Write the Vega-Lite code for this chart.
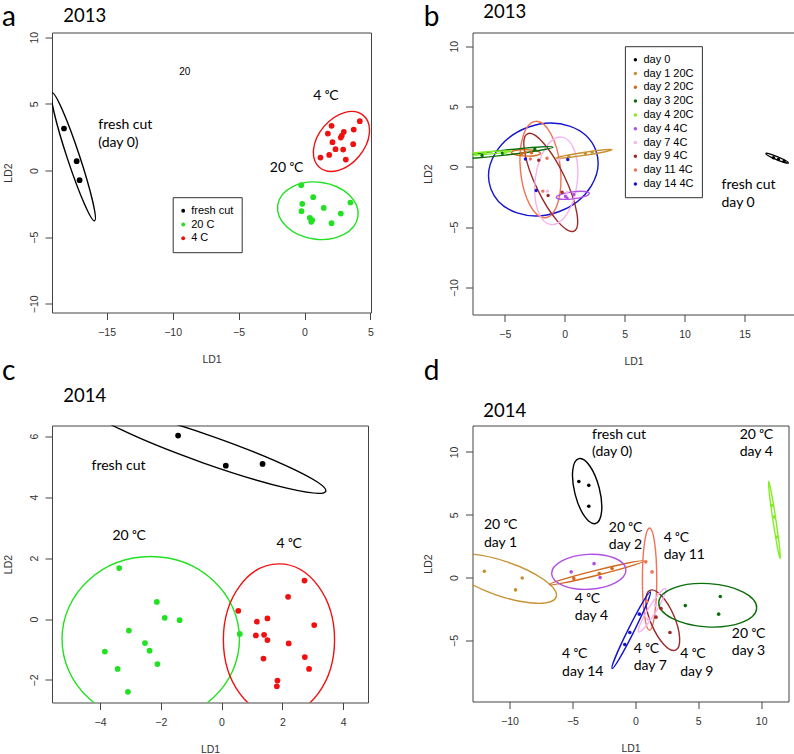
{
"$schema": "https://vega.github.io/schema/vega-lite/v6.json",
"autosize": {"type": "pad"},
"padding": {"left": 1, "top": 1.5, "right": 0, "bottom": 0},
"columns": 2, "bounds": "flush", "align": "all",
"spacing": {"row": 111, "column": 98.5},
"resolve": {"scale": {"color": "independent", "stroke": "independent"}, "legend": {"color": "independent", "stroke": "independent"}},
"config": {
  "view": {"stroke": "#444", "strokeWidth": 1},
  "axis": {"grid": false, "domain": false, "labelFlush": false, "labelFont": "Liberation Sans", "labelFontSize": 10.5, "labelColor": "#333", "tickColor": "#444", "tickSize": 7, "titleFont": "Liberation Sans", "titleFontSize": 10.5, "titleFontWeight": "normal", "titleColor": "#333", "titlePadding": 16},
  "axisX": {"labelPadding": 8},
  "axisY": {"labelAngle": 270, "labelPadding": 6},
  "legend": {"labelFont": "Liberation Sans", "labelFontSize": 11, "labelColor": "black", "strokeColor": "#333", "fillColor": "white", "padding": 8, "rowPadding": 1.8, "labelOffset": 2.5, "symbolOffset": -3, "symbolType": "circle"},
  "title": {"font": "Lato", "fontSize": 28, "fontWeight": "normal", "color": "black", "anchor": "start", "frame": "group", "offset": 0, "baseline": "alphabetic"}
},
"datasets": {
  "a_pts": [
    {"g": "fresh cut", "x": -18.23, "y": 3.15}, {"g": "fresh cut", "x": -17.27, "y": 0.70}, {"g": "fresh cut", "x": -17.05, "y": -0.73},
    {"g": "4 C", "x": 4.19, "y": 3.70}, {"g": "4 C", "x": 2.05, "y": 3.35}, {"g": "4 C", "x": 3.73, "y": 3.07}, {"g": "4 C", "x": 2.98, "y": 2.90}, {"g": "4 C", "x": 1.77, "y": 2.77}, {"g": "4 C", "x": 2.83, "y": 2.62}, {"g": "4 C", "x": 2.75, "y": 2.47}, {"g": "4 C", "x": 2.12, "y": 2.12}, {"g": "4 C", "x": 3.69, "y": 1.97}, {"g": "4 C", "x": 2.35, "y": 1.60}, {"g": "4 C", "x": 2.93, "y": 1.57}, {"g": "4 C", "x": 1.87, "y": 1.17}, {"g": "4 C", "x": 1.21, "y": 0.97}, {"g": "4 C", "x": 3.13, "y": 0.82},
    {"g": "20 C", "x": -0.25, "y": -1.10}, {"g": "20 C", "x": 0.66, "y": -2.0}, {"g": "20 C", "x": 3.48, "y": -2.40}, {"g": "20 C", "x": -0.17, "y": -2.5}, {"g": "20 C", "x": 1.46, "y": -2.81}, {"g": "20 C", "x": -0.23, "y": -3.05}, {"g": "20 C", "x": 2.75, "y": -3.23}, {"g": "20 C", "x": 0.40, "y": -3.55}, {"g": "20 C", "x": 0.58, "y": -3.73}, {"g": "20 C", "x": 0.51, "y": -3.85}, {"g": "20 C", "x": 2.05, "y": -3.95}
  ],
  "a_ell": [
    {"g": "fresh cut", "k": 0, "x": -19.13, "y": 5.82}, {"g": "fresh cut", "k": 1, "x": -17.075, "y": 1.166}, {"g": "fresh cut", "k": 2, "x": -15.91, "y": -3.78}, {"g": "fresh cut", "k": 3, "x": -17.965, "y": 0.874},
    {"g": "4 C", "k": 0, "x": 4.455, "y": 4.134}, {"g": "4 C", "k": 1, "x": 4.135, "y": 1.071}, {"g": "4 C", "k": 2, "x": 1.145, "y": 0.226}, {"g": "4 C", "k": 3, "x": 1.465, "y": 3.289},
    {"g": "20 C", "k": 0, "x": 4.05, "y": -3.44}, {"g": "20 C", "k": 1, "x": 0.71, "y": -5.14}, {"g": "20 C", "k": 2, "x": -2.03, "y": -2.60}, {"g": "20 C", "k": 3, "x": 1.31, "y": -0.90}
  ],
  "a_txt": [
    {"t": "fresh cut", "x": -15.63, "y": 3.45}, {"t": "(day 0)", "x": -15.63, "y": 2.1},
    {"t": "4 ᵒC", "x": 0.66, "y": 5.6}, {"t": "20 ᵒC", "x": -2.63, "y": 0.22}
  ],
  "a_small": [{"t": "20", "x": -9.07, "y": 7.4}],
  "b_pts": [
    {"g": "day 0", "x": 17.42, "y": 0.75}, {"g": "day 0", "x": 17.83, "y": 0.61}, {"g": "day 0", "x": 18.3, "y": 0.47},
    {"g": "day 1 20C", "x": 0.33, "y": 0.89}, {"g": "day 1 20C", "x": 1.72, "y": 1.11}, {"g": "day 1 20C", "x": 2.28, "y": 1.22},
    {"g": "day 2 20C", "x": -3.6, "y": 1.1}, {"g": "day 2 20C", "x": -2.78, "y": 1.16}, {"g": "day 2 20C", "x": -3.3, "y": 1.2},
    {"g": "day 3 20C", "x": -6.9, "y": 0.95}, {"g": "day 3 20C", "x": -5.2, "y": 1.12}, {"g": "day 3 20C", "x": -2.5, "y": 1.45},
    {"g": "day 4 20C", "x": -7.4, "y": 1.05}, {"g": "day 4 20C", "x": -6.64, "y": 1.13}, {"g": "day 4 20C", "x": -4.98, "y": 1.16},
    {"g": "day 4 4C", "x": 0.05, "y": -2.43}, {"g": "day 4 4C", "x": 0.75, "y": -2.29}, {"g": "day 4 4C", "x": 0.19, "y": -2.57},
    {"g": "day 7 4C", "x": -1.45, "y": -2.01}, {"g": "day 7 4C", "x": -0.47, "y": 0.6}, {"g": "day 7 4C", "x": 0.19, "y": -2.15},
    {"g": "day 9 4C", "x": -2.17, "y": 0.55}, {"g": "day 9 4C", "x": -1.39, "y": -2.37}, {"g": "day 9 4C", "x": -0.22, "y": -2.10},
    {"g": "day 11 4C", "x": -2.87, "y": 0.66}, {"g": "day 11 4C", "x": -1.48, "y": 0.72}, {"g": "day 11 4C", "x": -1.83, "y": -2.01},
    {"g": "day 14 4C", "x": -3.28, "y": 0.66}, {"g": "day 14 4C", "x": 0.25, "y": 0.61}, {"g": "day 14 4C", "x": -2.39, "y": -1.96}
  ],
  "b_ell": [
    {"g": "day 14 4C", "k": 0, "x": 2.59, "y": 1.367}, {"g": "day 14 4C", "k": 1, "x": -0.507, "y": -3.72}, {"g": "day 14 4C", "k": 2, "x": -6.17, "y": -1.807}, {"g": "day 14 4C", "k": 3, "x": -3.073, "y": 3.28},
    {"g": "day 11 4C", "k": 0, "x": -2.45, "y": 3.77}, {"g": "day 11 4C", "k": 1, "x": -0.37, "y": -0.047}, {"g": "day 11 4C", "k": 2, "x": -1.61, "y": -4.21}, {"g": "day 11 4C", "k": 3, "x": -3.69, "y": -0.393},
    {"g": "day 9 4C", "k": 0, "x": 0.77, "y": -5.32}, {"g": "day 9 4C", "k": 1, "x": -0.045, "y": -0.754}, {"g": "day 9 4C", "k": 2, "x": -3.11, "y": 2.74}, {"g": "day 9 4C", "k": 3, "x": -2.295, "y": -1.826},
    {"g": "day 7 4C", "k": 0, "x": -0.252, "y": 2.46}, {"g": "day 7 4C", "k": 1, "x": 1.03, "y": -1.378}, {"g": "day 7 4C", "k": 2, "x": -1.168, "y": -4.78}, {"g": "day 7 4C", "k": 3, "x": -2.45, "y": -0.942},
    {"g": "day 4 4C", "k": 0, "x": 2.045, "y": -2.194}, {"g": "day 4 4C", "k": 1, "x": 0.70, "y": -2.65}, {"g": "day 4 4C", "k": 2, "x": -0.705, "y": -2.526}, {"g": "day 4 4C", "k": 3, "x": 0.64, "y": -2.07},
    {"g": "day 2 20C", "k": 0, "x": -2.03, "y": 1.12}, {"g": "day 2 20C", "k": 1, "x": -3.24, "y": 1.43}, {"g": "day 2 20C", "k": 2, "x": -4.45, "y": 1.20}, {"g": "day 2 20C", "k": 3, "x": -3.24, "y": 0.89},
    {"g": "day 1 20C", "k": 0, "x": 3.95, "y": 1.422}, {"g": "day 1 20C", "k": 1, "x": 1.609, "y": 0.947}, {"g": "day 1 20C", "k": 2, "x": -0.77, "y": 0.718}, {"g": "day 1 20C", "k": 3, "x": 1.571, "y": 1.193},
    {"g": "day 3 20C", "k": 0, "x": -0.98, "y": 1.636}, {"g": "day 3 20C", "k": 1, "x": -4.956, "y": 0.974}, {"g": "day 3 20C", "k": 2, "x": -8.98, "y": 0.724}, {"g": "day 3 20C", "k": 3, "x": -5.004, "y": 1.386},
    {"g": "day 4 20C", "k": 0, "x": -4.47, "y": 1.296}, {"g": "day 4 20C", "k": 1, "x": -6.71, "y": 1.03}, {"g": "day 4 20C", "k": 2, "x": -8.97, "y": 0.964}, {"g": "day 4 20C", "k": 3, "x": -6.73, "y": 1.23},
    {"g": "day 0", "k": 0, "x": 18.66, "y": 0.33}, {"g": "day 0", "k": 1, "x": 17.672, "y": 0.605}, {"g": "day 0", "k": 2, "x": 16.78, "y": 1.11}, {"g": "day 0", "k": 3, "x": 17.768, "y": 0.835}
  ],
  "b_txt": [
    {"t": "fresh cut", "x": 13.08, "y": -1.52}, {"t": "day 0", "x": 13.08, "y": -2.98}
  ],
  "c_pts": [
    {"g": "fresh cut", "x": -1.43, "y": 6.02}, {"g": "fresh cut", "x": 0.14, "y": 5.03}, {"g": "fresh cut", "x": 1.35, "y": 5.09},
    {"g": "20 C", "x": -3.37, "y": 1.67}, {"g": "20 C", "x": -2.13, "y": 0.56}, {"g": "20 C", "x": -1.87, "y": 0.04}, {"g": "20 C", "x": -1.38, "y": -0.04}, {"g": "20 C", "x": -3.05, "y": -0.38}, {"g": "20 C", "x": -2.52, "y": -0.79}, {"g": "20 C", "x": -2.37, "y": -1.04}, {"g": "20 C", "x": -3.84, "y": -1.07}, {"g": "20 C", "x": -2.11, "y": -1.48}, {"g": "20 C", "x": -3.42, "y": -1.64}, {"g": "20 C", "x": -3.08, "y": -2.39}, {"g": "20 C", "x": 0.60, "y": -0.49},
    {"g": "4 C", "x": 0.55, "y": 0.27}, {"g": "4 C", "x": 2.73, "y": 1.26}, {"g": "4 C", "x": 2.19, "y": 0.73}, {"g": "4 C", "x": 1.16, "y": -0.09}, {"g": "4 C", "x": 1.51, "y": 0.02}, {"g": "4 C", "x": 3.05, "y": -0.20}, {"g": "4 C", "x": 1.13, "y": -0.54}, {"g": "4 C", "x": 1.40, "y": -0.52}, {"g": "4 C", "x": 1.51, "y": -0.69}, {"g": "4 C", "x": 2.21, "y": -0.80}, {"g": "4 C", "x": 1.38, "y": -1.30}, {"g": "4 C", "x": 2.74, "y": -1.25}, {"g": "4 C", "x": 2.88, "y": -1.64}, {"g": "4 C", "x": 1.84, "y": -2.02}, {"g": "4 C", "x": 1.82, "y": -2.21}
  ],
  "c_ell": [
    {"g": "fresh cut", "k": 0, "x": 3.43, "y": 4.194}, {"g": "fresh cut", "k": 1, "x": -0.613, "y": 5.126}, {"g": "fresh cut", "k": 2, "x": -4.35, "y": 6.926}, {"g": "fresh cut", "k": 3, "x": -0.307, "y": 5.994},
    {"g": "20 C", "k": 0, "x": 0.59, "y": -0.66}, {"g": "20 C", "k": 1, "x": -2.33, "y": 2.05}, {"g": "20 C", "k": 2, "x": -5.25, "y": -0.66}, {"g": "20 C", "k": 3, "x": -2.33, "y": -3.37},
    {"g": "4 C", "k": 0, "x": 3.72, "y": -0.68}, {"g": "4 C", "k": 1, "x": 1.89, "y": 1.81}, {"g": "4 C", "k": 2, "x": 0.06, "y": -0.68}, {"g": "4 C", "k": 3, "x": 1.89, "y": -3.17}
  ],
  "c_txt": [
    {"t": "fresh cut", "x": -4.28, "y": 5.03}, {"t": "20 ᵒC", "x": -3.59, "y": 2.72}, {"t": "4 ᵒC", "x": 1.81, "y": 2.47}
  ],
  "d_pts": [
    {"g": "day 0", "x": -4.49, "y": 7.65}, {"g": "day 0", "x": -3.70, "y": 7.34}, {"g": "day 0", "x": -3.70, "y": 5.67},
    {"g": "day 1 20C", "x": -12.0, "y": 0.50}, {"g": "day 1 20C", "x": -8.99, "y": -0.03}, {"g": "day 1 20C", "x": -9.52, "y": -0.98},
    {"g": "day 2 20C", "x": -4.89, "y": -0.08}, {"g": "day 2 20C", "x": -2.86, "y": 0.32}, {"g": "day 2 20C", "x": -1.85, "y": 0.72},
    {"g": "day 3 20C", "x": 3.97, "y": -2.23}, {"g": "day 3 20C", "x": 6.75, "y": -1.51}, {"g": "day 3 20C", "x": 6.62, "y": -2.91},
    {"g": "day 4 20C", "x": 10.85, "y": 5.75}, {"g": "day 4 20C", "x": 11.01, "y": 4.82}, {"g": "day 4 20C", "x": 11.25, "y": 3.23},
    {"g": "day 4 4C", "x": -5.10, "y": 0.45}, {"g": "day 4 4C", "x": -3.28, "y": 1.11}, {"g": "day 4 4C", "x": -2.80, "y": 0.0},
    {"g": "day 7 4C", "x": 1.0, "y": -3.3}, {"g": "day 7 4C", "x": 1.6, "y": -2.2},
    {"g": "day 9 4C", "x": 2.04, "y": -2.46}, {"g": "day 9 4C", "x": 1.64, "y": -3.15}, {"g": "day 9 4C", "x": 2.75, "y": -4.37},
    {"g": "day 11 4C", "x": 0.83, "y": 1.25}, {"g": "day 11 4C", "x": 1.33, "y": 0.45}, {"g": "day 11 4C", "x": 0.9, "y": -1.9},
    {"g": "day 14 4C", "x": 0.32, "y": -2.91}, {"g": "day 14 4C", "x": -0.44, "y": -4.37}, {"g": "day 14 4C", "x": -0.84, "y": -5.33}
  ],
  "d_ell": [
    {"g": "day 0", "k": 0, "x": -4.489, "y": 9.46}, {"g": "day 0", "k": 1, "x": -2.87, "y": 7.126}, {"g": "day 0", "k": 2, "x": -3.171, "y": 4.30}, {"g": "day 0", "k": 3, "x": -4.79, "y": 6.634},
    {"g": "day 1 20C", "k": 0, "x": -6.29, "y": -1.55}, {"g": "day 1 20C", "k": 1, "x": -11.029, "y": -1.39}, {"g": "day 1 20C", "k": 2, "x": -14.87, "y": 1.39}, {"g": "day 1 20C", "k": 3, "x": -10.131, "y": 1.23},
    {"g": "day 2 20C", "k": 0, "x": 0.67, "y": 1.32}, {"g": "day 2 20C", "k": 1, "x": -3.032, "y": 0.187}, {"g": "day 2 20C", "k": 2, "x": -6.83, "y": -0.56}, {"g": "day 2 20C", "k": 3, "x": -3.128, "y": 0.573},
    {"g": "day 4 4C", "k": 0, "x": -0.75, "y": 0.62}, {"g": "day 4 4C", "k": 1, "x": -3.775, "y": 1.85}, {"g": "day 4 4C", "k": 2, "x": -6.65, "y": 0.30}, {"g": "day 4 4C", "k": 3, "x": -3.625, "y": -0.93},
    {"g": "day 11 4C", "k": 0, "x": 1.13, "y": 3.95}, {"g": "day 11 4C", "k": 1, "x": 1.70, "y": -0.12}, {"g": "day 11 4C", "k": 2, "x": 1.13, "y": -4.19}, {"g": "day 11 4C", "k": 3, "x": 0.56, "y": -0.12},
    {"g": "day 9 4C", "k": 0, "x": 3.20, "y": -5.77}, {"g": "day 9 4C", "k": 1, "x": 3.056, "y": -3.016}, {"g": "day 9 4C", "k": 2, "x": 1.16, "y": -1.01}, {"g": "day 9 4C", "k": 3, "x": 1.304, "y": -3.764},
    {"g": "day 14 4C", "k": 0, "x": 1.19, "y": -1.14}, {"g": "day 14 4C", "k": 1, "x": -0.117, "y": -4.297}, {"g": "day 14 4C", "k": 2, "x": -1.85, "y": -7.24}, {"g": "day 14 4C", "k": 3, "x": -0.543, "y": -4.083},
    {"g": "day 7 4C", "k": 0, "x": 2.39, "y": -0.88}, {"g": "day 7 4C", "k": 1, "x": 1.60, "y": -2.767}, {"g": "day 7 4C", "k": 2, "x": 0.27, "y": -4.32}, {"g": "day 7 4C", "k": 3, "x": 1.06, "y": -2.433},
    {"g": "day 3 20C", "k": 0, "x": 9.64, "y": -2.44}, {"g": "day 3 20C", "k": 1, "x": 5.645, "y": -3.92}, {"g": "day 3 20C", "k": 2, "x": 1.86, "y": -1.96}, {"g": "day 3 20C", "k": 3, "x": 5.855, "y": -0.48},
    {"g": "day 4 20C", "k": 0, "x": 11.51, "y": 1.50}, {"g": "day 4 20C", "k": 1, "x": 11.167, "y": 4.598}, {"g": "day 4 20C", "k": 2, "x": 10.59, "y": 7.66}, {"g": "day 4 20C", "k": 3, "x": 10.933, "y": 4.562}
  ],
  "d_txt": [
    {"t": "fresh cut", "x": -3.44, "y": 11.37}, {"t": "(day 0)", "x": -3.44, "y": 9.99},
    {"t": "20 ᵒC", "x": 8.29, "y": 11.37}, {"t": "day 4", "x": 8.29, "y": 9.99},
    {"t": "20 ᵒC", "x": -12.03, "y": 4.16}, {"t": "day 1", "x": -12.03, "y": 2.78},
    {"t": "20 ᵒC", "x": -2.11, "y": 3.97}, {"t": "day 2", "x": -2.11, "y": 2.57},
    {"t": "4 ᵒC", "x": 2.25, "y": 3.18}, {"t": "day 11", "x": 2.25, "y": 1.83},
    {"t": "4 ᵒC", "x": -4.81, "y": -1.67}, {"t": "day 4", "x": -4.81, "y": -3.05},
    {"t": "20 ᵒC", "x": 7.67, "y": -4.45}, {"t": "day 3", "x": 7.67, "y": -5.86},
    {"t": "4 ᵒC", "x": -5.82, "y": -6.12}, {"t": "day 14", "x": -5.82, "y": -7.5},
    {"t": "4 ᵒC", "x": -0.13, "y": -5.7}, {"t": "day 7", "x": -0.13, "y": -7.07},
    {"t": "4 ᵒC", "x": 3.57, "y": -6.12}, {"t": "day 9", "x": 3.57, "y": -7.5}
  ]
},
"concat": [
  {
    "width": 319, "height": 280,
    "title": {"text": "a", "dx": -50, "dy": 28.8},
    "resolve": {"axis": {"x": "independent", "y": "independent"}},
    "layer": [
      {"data": {"name": "a_ell"},
       "mark": {"type": "line", "interpolate": "cardinal-closed", "tension": -0.657, "clip": true, "strokeWidth": 1.4},
       "encoding": {
         "x": {"field": "x", "type": "quantitative", "scale": {"domain": [-19.14, 5.04], "nice": false, "zero": false}, "axis": null},
         "y": {"field": "y", "type": "quantitative", "scale": {"domain": [-10.65, 10.35], "nice": false, "zero": false}, "axis": null},
         "stroke": {"field": "g", "type": "nominal", "scale": {"domain": ["4 C", "20 C", "fresh cut"], "range": ["#f01010", "#22e022", "#000000"]}, "legend": null},
         "order": {"field": "k", "type": "quantitative"}}},
      {"data": {"name": "a_pts"},
       "mark": {"type": "point", "filled": true, "opacity": 1, "size": 33},
       "encoding": {
         "x": {"field": "x", "type": "quantitative", "scale": {"domain": [-19.14, 5.04], "nice": false, "zero": false}, "axis": {"title": "LD1", "values": [-15, -10, -5, 0, 5]}},
         "y": {"field": "y", "type": "quantitative", "scale": {"domain": [-10.65, 10.35], "nice": false, "zero": false}, "axis": {"title": "LD2", "values": [-10, -5, 0, 5, 10]}},
         "color": {"field": "g", "type": "nominal", "scale": {"domain": ["fresh cut", "20 C", "4 C"], "range": ["#000000", "#22e022", "#f01010"]}, "legend": {"title": null, "orient": "none", "legendX": 120.7, "legendY": 164.7, "symbolSize": 15, "symbolType": "circle"}}}},
      {"data": {"name": "a_txt"},
       "mark": {"type": "text", "align": "left", "baseline": "middle", "font": "Lato", "fontSize": 14, "color": "black"},
       "encoding": {
         "x": {"field": "x", "type": "quantitative", "scale": {"domain": [-19.14, 5.04], "nice": false, "zero": false}, "axis": {"orient": "top", "title": "2013", "labels": false, "ticks": false, "domain": false, "titleX": 10.7, "titleY": -10.8, "titleAlign": "left", "titleBaseline": "alphabetic", "titleAngle": 0, "titleFont": "Lato", "titleFontSize": 18.5, "titleColor": "black"}},
         "y": {"field": "y", "type": "quantitative", "scale": {"domain": [-10.65, 10.35], "nice": false, "zero": false}, "axis": null},
         "text": {"field": "t"}}},
      {"data": {"name": "a_small"},
       "mark": {"type": "text", "align": "center", "baseline": "middle", "font": "Liberation Sans", "fontSize": 10, "color": "black"},
       "encoding": {
         "x": {"field": "x", "type": "quantitative", "scale": {"domain": [-19.14, 5.04], "nice": false, "zero": false}, "axis": null},
         "y": {"field": "y", "type": "quantitative", "scale": {"domain": [-10.65, 10.35], "nice": false, "zero": false}, "axis": null},
         "text": {"field": "t"}}}
    ]
  },
  {
    "width": 322, "height": 282,
    "title": {"text": "b", "dx": -48.8, "dy": 32.8},
    "resolve": {"axis": {"x": "independent", "y": "independent"}},
    "layer": [
      {"data": {"name": "b_ell"},
       "mark": {"type": "line", "interpolate": "cardinal-closed", "tension": -0.657, "clip": true, "strokeWidth": 1.4},
       "encoding": {
         "x": {"field": "x", "type": "quantitative", "scale": {"domain": [-7.7, 19.17], "nice": false, "zero": false}, "axis": null},
         "y": {"field": "y", "type": "quantitative", "scale": {"domain": [-12.23, 11.13], "nice": false, "zero": false}, "axis": null},
         "stroke": {"field": "g", "type": "nominal", "scale": {"domain": ["day 14 4C", "day 11 4C", "day 9 4C", "day 7 4C", "day 4 4C", "day 4 20C", "day 3 20C", "day 2 20C", "day 1 20C", "day 0"], "range": ["#1414d2", "#f07355", "#9b2a2a", "#f5b4f0", "#b050e6", "#80ee20", "#0b6e0b", "#d2691e", "#c89030", "#000000"]}, "legend": null},
         "order": {"field": "k", "type": "quantitative"}}},
      {"data": {"name": "b_pts"},
       "mark": {"type": "point", "filled": true, "opacity": 1, "size": 12},
       "encoding": {
         "x": {"field": "x", "type": "quantitative", "scale": {"domain": [-7.7, 19.17], "nice": false, "zero": false}, "axis": {"title": "LD1", "values": [-5, 0, 5, 10, 15]}},
         "y": {"field": "y", "type": "quantitative", "scale": {"domain": [-12.23, 11.13], "nice": false, "zero": false}, "axis": {"title": "LD2", "values": [-10, -5, 0, 5, 10]}},
         "color": {"field": "g", "type": "nominal", "scale": {"domain": ["day 0", "day 1 20C", "day 2 20C", "day 3 20C", "day 4 20C", "day 4 4C", "day 7 4C", "day 9 4C", "day 11 4C", "day 14 4C"], "range": ["#000000", "#c89030", "#d2691e", "#0b6e0b", "#80ee20", "#b050e6", "#f5b4f0", "#9b2a2a", "#f07355", "#1414d2"]}, "legend": {"title": null, "orient": "none", "legendX": 152.4, "legendY": 13.7, "symbolSize": 12, "symbolType": "circle"}}}},
      {"data": {"name": "b_txt"},
       "mark": {"type": "text", "align": "left", "baseline": "middle", "font": "Lato", "fontSize": 14, "color": "black"},
       "encoding": {
         "x": {"field": "x", "type": "quantitative", "scale": {"domain": [-7.7, 19.17], "nice": false, "zero": false}, "axis": {"orient": "top", "title": "2013", "labels": false, "ticks": false, "domain": false, "titleX": 10.2, "titleY": -14.8, "titleAlign": "left", "titleBaseline": "alphabetic", "titleAngle": 0, "titleFont": "Lato", "titleFontSize": 18.5, "titleColor": "black"}},
         "y": {"field": "y", "type": "quantitative", "scale": {"domain": [-12.23, 11.13], "nice": false, "zero": false}, "axis": null},
         "text": {"field": "t"}}}
    ]
  },
  {
    "width": 316, "height": 277,
    "title": {"text": "c", "dx": -50, "dy": 2.8},
    "resolve": {"axis": {"x": "independent", "y": "independent"}},
    "layer": [
      {"data": {"name": "c_ell"},
       "mark": {"type": "line", "interpolate": "cardinal-closed", "tension": -0.657, "clip": true, "strokeWidth": 1.4},
       "encoding": {
         "x": {"field": "x", "type": "quantitative", "scale": {"domain": [-5.58, 4.82], "nice": false, "zero": false}, "axis": null},
         "y": {"field": "y", "type": "quantitative", "scale": {"domain": [-2.74, 6.35], "nice": false, "zero": false}, "axis": null},
         "stroke": {"field": "g", "type": "nominal", "scale": {"domain": ["4 C", "20 C", "fresh cut"], "range": ["#f01010", "#22e022", "#000000"]}, "legend": null},
         "order": {"field": "k", "type": "quantitative"}}},
      {"data": {"name": "c_pts"},
       "mark": {"type": "point", "filled": true, "opacity": 1, "size": 33},
       "encoding": {
         "x": {"field": "x", "type": "quantitative", "scale": {"domain": [-5.58, 4.82], "nice": false, "zero": false}, "axis": {"title": "LD1", "values": [-4, -2, 0, 2, 4]}},
         "y": {"field": "y", "type": "quantitative", "scale": {"domain": [-2.74, 6.35], "nice": false, "zero": false}, "axis": {"title": "LD2", "values": [-2, 0, 2, 4, 6]}},
         "color": {"field": "g", "type": "nominal", "scale": {"domain": ["fresh cut", "20 C", "4 C"], "range": ["#000000", "#22e022", "#f01010"]}, "legend": null}}},
      {"data": {"name": "c_txt"},
       "mark": {"type": "text", "align": "left", "baseline": "middle", "font": "Lato", "fontSize": 14, "color": "black"},
       "encoding": {
         "x": {"field": "x", "type": "quantitative", "scale": {"domain": [-5.58, 4.82], "nice": false, "zero": false}, "axis": {"orient": "top", "title": "2014", "labels": false, "ticks": false, "domain": false, "titleX": 10.7, "titleY": -23.8, "titleAlign": "left", "titleBaseline": "alphabetic", "titleAngle": 0, "titleFont": "Lato", "titleFontSize": 18.5, "titleColor": "black"}},
         "y": {"field": "y", "type": "quantitative", "scale": {"domain": [-2.74, 6.35], "nice": false, "zero": false}, "axis": null},
         "text": {"field": "t"}}}
    ]
  },
  {
    "width": 316, "height": 276,
    "title": {"text": "d", "dx": -48.8, "dy": -12.2},
    "resolve": {"axis": {"x": "independent", "y": "independent"}},
    "layer": [
      {"data": {"name": "d_ell"},
       "mark": {"type": "line", "interpolate": "cardinal-closed", "tension": -0.657, "clip": true, "strokeWidth": 1.4},
       "encoding": {
         "x": {"field": "x", "type": "quantitative", "scale": {"domain": [-12.94, 12.17], "nice": false, "zero": false}, "axis": null},
         "y": {"field": "y", "type": "quantitative", "scale": {"domain": [-9.86, 12.1], "nice": false, "zero": false}, "axis": null},
         "stroke": {"field": "g", "type": "nominal", "scale": {"domain": ["day 14 4C", "day 11 4C", "day 9 4C", "day 7 4C", "day 4 4C", "day 4 20C", "day 3 20C", "day 2 20C", "day 1 20C", "day 0"], "range": ["#1414d2", "#f07355", "#9b2a2a", "#f5b4f0", "#b050e6", "#80ee20", "#0b6e0b", "#d2691e", "#c89030", "#000000"]}, "legend": null},
         "order": {"field": "k", "type": "quantitative"}}},
      {"data": {"name": "d_pts"},
       "mark": {"type": "point", "filled": true, "opacity": 1, "size": 13},
       "encoding": {
         "x": {"field": "x", "type": "quantitative", "scale": {"domain": [-12.94, 12.17], "nice": false, "zero": false}, "axis": {"title": "LD1", "values": [-10, -5, 0, 5, 10]}},
         "y": {"field": "y", "type": "quantitative", "scale": {"domain": [-9.86, 12.1], "nice": false, "zero": false}, "axis": {"title": "LD2", "values": [-5, 0, 5, 10]}},
         "color": {"field": "g", "type": "nominal", "scale": {"domain": ["day 0", "day 1 20C", "day 2 20C", "day 3 20C", "day 4 20C", "day 4 4C", "day 7 4C", "day 9 4C", "day 11 4C", "day 14 4C"], "range": ["#000000", "#c89030", "#d2691e", "#0b6e0b", "#80ee20", "#b050e6", "#f5b4f0", "#9b2a2a", "#f07355", "#1414d2"]}, "legend": null}}},
      {"data": {"name": "d_txt"},
       "mark": {"type": "text", "align": "left", "baseline": "middle", "font": "Lato", "fontSize": 14, "color": "black"},
       "encoding": {
         "x": {"field": "x", "type": "quantitative", "scale": {"domain": [-12.94, 12.17], "nice": false, "zero": false}, "axis": {"orient": "top", "title": "2014", "labels": false, "ticks": false, "domain": false, "titleX": 10.2, "titleY": -8.8, "titleAlign": "left", "titleBaseline": "alphabetic", "titleAngle": 0, "titleFont": "Lato", "titleFontSize": 18.5, "titleColor": "black"}},
         "y": {"field": "y", "type": "quantitative", "scale": {"domain": [-9.86, 12.1], "nice": false, "zero": false}, "axis": null},
         "text": {"field": "t"}}}
    ]
  }
]
}
